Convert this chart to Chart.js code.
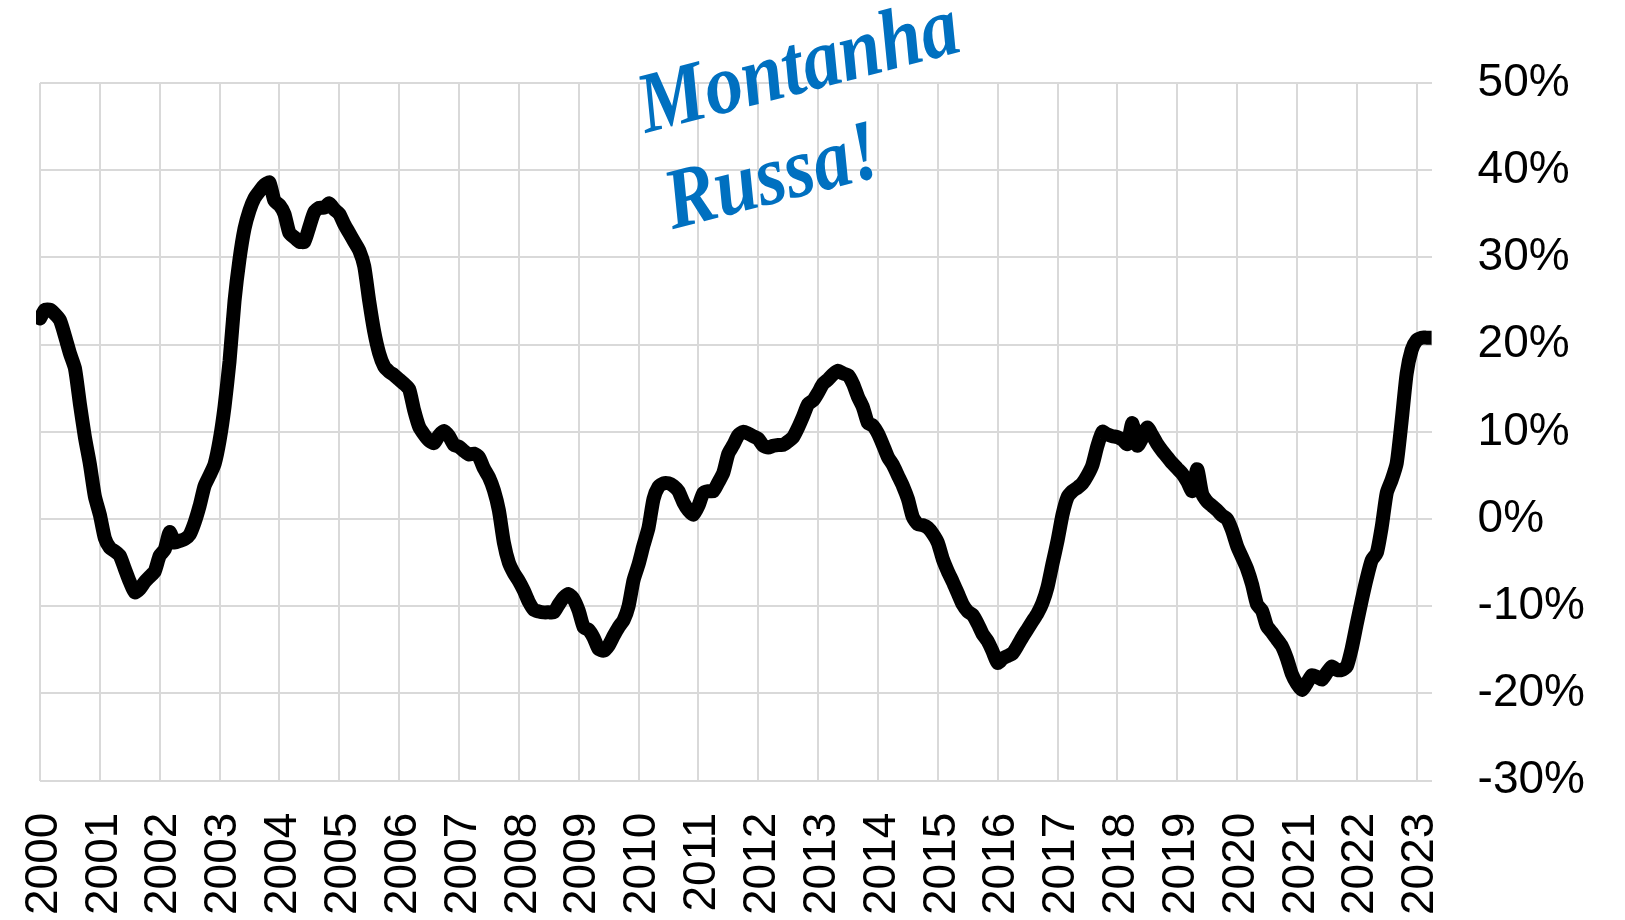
<!DOCTYPE html>
<html>
<head>
<meta charset="utf-8">
<script src="https://cdn.jsdelivr.net/npm/chart.js@4/dist/chart.umd.min.js"></script>
<style>
  html, body { margin: 0; padding: 0; background: #fff; }
  #wrap { width: 1625px; height: 920px; }
</style>
</head>
<body>
<div id="wrap"><canvas id="chart" width="1625" height="920"></canvas></div>
<script>
// monthly series, Jan 2000 .. Apr 2023 (%)
const startYear = 2000
const years = [2000, 2001, 2002, 2003, 2004, 2005, 2006, 2007, 2008, 2009, 2010, 2011,
  2012, 2013, 2014, 2015, 2016, 2017, 2018, 2019, 2020, 2021, 2022, 2023]
const values = [
  23, 24, 24, 23.5, 22.8, 21, 19, 17.3, 13.2, 9.4, 6.3, 2.6,              // 2000
  0.5, -2.2, -3.3, -3.7, -4.2, -5.7, -7.2, -8.4, -8, -7.2, -6.6, -6,       // 2001
  -4.2, -3.5, -1.5, -2.7, -2.5, -2.3, -1.8, -0.4, 1.5, 3.8, 5, 6.3,        // 2002
  9, 12.9, 18.1, 25, 29.8, 33.3, 35.4, 36.8, 37.6, 38.3, 38.6, 36.5,       // 2003
  36, 35, 32.8, 32.3, 31.8, 31.8, 33.5, 35.2, 35.7, 35.7, 36.2, 35.5,      // 2004
  35, 33.8, 32.8, 31.8, 30.8, 29, 25, 21.5, 19, 17.5, 16.9, 16.5,          // 2005
  16, 15.5, 14.9, 12.5, 10.6, 9.7, 9, 8.7, 9.6, 10.1, 9.5, 8.5,            // 2006
  8.3, 7.8, 7.4, 7.5, 7.1, 5.8, 4.8, 3.3, 1, -2.7, -5, -6.2,               // 2007
  -7.1, -8.2, -9.5, -10.4, -10.6, -10.7, -10.7, -10.7, -9.8, -9, -8.6, -9.2, // 2008
  -10.5, -12.4, -12.7, -13.6, -14.9, -15.1, -14.5, -13.4, -12.4, -11.6, -10, -7, // 2009
  -5.2, -3, -1, 2.3, 3.7, 4.1, 4.1, 3.8, 3.2, 1.9, 1, 0.5,                 // 2010
  1.5, 3, 3.2, 3.2, 4.2, 5.3, 7.5, 8.5, 9.6, 10, 9.8, 9.5,                 // 2011
  9.2, 8.4, 8.2, 8.4, 8.5, 8.5, 8.9, 9.4, 10.5, 11.8, 13.2, 13.6,          // 2012
  14.5, 15.5, 16, 16.6, 17, 16.7, 16.5, 15.5, 14, 12.8, 11, 10.7,          // 2013
  9.8, 8.5, 7.1, 6.2, 5, 3.8, 2.3, 0.2, -0.6, -0.7, -1, -1.7,              // 2014
  -2.7, -4.6, -6, -7.2, -8.5, -9.8, -10.6, -11, -12, -13.2, -14, -15.2,    // 2015
  -16.5, -16, -15.7, -15.4, -14.5, -13.5, -12.6, -11.7, -10.8, -9.6, -7.8, -5.1, // 2016
  -2.5, 0.5, 2.5, 3.2, 3.6, 4.1, 5, 6.2, 8.4, 10, 9.7, 9.5,                // 2017
  9.4, 9.1, 8.6, 11, 8.4, 9.3, 10.5, 9.6, 8.6, 7.8, 7.1, 6.4,              // 2018
  5.8, 5.2, 4.3, 3.2, 5.7, 2.9, 2, 1.5, 1, 0.4, 0, -1.3,                   // 2019
  -3.1, -4.4, -5.7, -7.5, -9.8, -10.5, -12.3, -13, -13.8, -14.6, -16, -17.8, // 2020
  -18.9, -19.6, -18.8, -17.9, -18.1, -18.4, -17.6, -16.9, -17.3, -17.3, -16.9, -14.8, // 2021
  -12, -9.3, -6.8, -4.7, -3.9, -0.9, 3, 4.5, 6.4, 11.3, 16.7, 19.4,        // 2022
  20.5, 20.8, 20.8, 20.8                                                   // 2023
]
const yTicks = [-30, -20, -10, 0, 10, 20, 30, 40, 50]
const titleLines = ['Montanha', 'Russa!']

const points = values.map((v, i) => ({ x: startYear + i / 12, y: v }))
const lastX = startYear + (values.length - 1) / 12
const gridColor = '#d9d9d9'
const tickFont = { family: '"Liberation Sans", Arial, sans-serif', size: 46 }

const titlePlugin = {
  id: 'montanha',
  afterDraw(chart) {
    const c = chart.ctx
    c.save()
    c.translate(646, 133)
    c.rotate(-14.5 * Math.PI / 180)
    c.scale(0.88, 1)
    c.font = 'italic bold 86px "Liberation Serif", "Times New Roman", serif'
    c.fillStyle = '#0070C0'
    c.textAlign = 'left'
    c.textBaseline = 'alphabetic'
    c.fillText(titleLines[0], 0, 0)
    c.fillText(titleLines[1], 2, 100)
    c.restore()
  }
}

// Chart.js reserves tick padding twice; keep it once
const trimPadding = (scale) => {
  const p = scale.options.ticks.padding
  if (scale.isHorizontal()) scale.height -= p
  else scale.width -= p
}

const ctx = document.getElementById('chart').getContext('2d')
const myChart = new Chart(ctx, {
  type: 'line',
  data: {
    datasets: [{
      data: points,
      borderColor: '#000000',
      borderWidth: 14,
      borderJoinStyle: 'round',
      borderCapStyle: 'round',
      pointRadius: 0,
      tension: 0.2,
      fill: false,
      clip: { left: 4, right: 0, top: false, bottom: false }
    }]
  },
  options: {
    responsive: false,
    animation: false,
    layout: { padding: { left: 40, right: 40, top: 83, bottom: 5 } },
    plugins: { legend: { display: false }, tooltip: { enabled: false } },
    scales: {
      x: {
        type: 'linear',
        min: startYear,
        max: lastX,
        grid: { color: gridColor, lineWidth: 2, drawTicks: false },
        border: { display: false },
        afterBuildTicks: (scale) => { scale.ticks = years.map(y => ({ value: y })) },
        afterFit: trimPadding,
        ticks: {
          color: '#000',
          font: tickFont,
          padding: 32,
          minRotation: 90,
          maxRotation: 90,
          autoSkip: false,
          includeBounds: false,
          labelOffset: 4,
          callback: (v) => String(v)
        }
      },
      y: {
        position: 'right',
        min: yTicks[0],
        max: yTicks[yTicks.length - 1],
        grid: { color: gridColor, lineWidth: 2, drawTicks: false },
        border: { display: false },
        afterBuildTicks: (scale) => { scale.ticks = yTicks.map(v => ({ value: v })) },
        afterFit: trimPadding,
        ticks: {
          color: '#000',
          font: tickFont,
          padding: 46,
          callback: (v) => v + '%'
        }
      }
    }
  },
  plugins: [titlePlugin]
})
</script>
</body>
</html>
